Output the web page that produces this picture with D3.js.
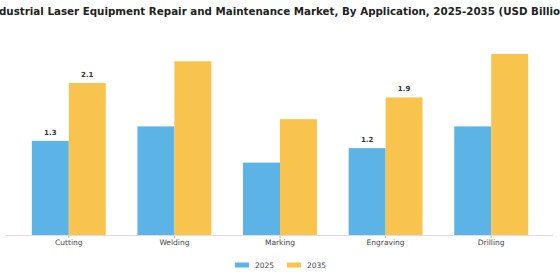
<!DOCTYPE html>
<html>
<head>
<meta charset="utf-8">
<script src="https://cdn.jsdelivr.net/npm/d3@7"></script>
<style>
  body { margin: 0; background: #fff; }
  svg { display: block; font-family: "DejaVu Sans", sans-serif; }
</style>
</head>
<body>
<svg id="chart" width="560" height="280"></svg>
<script>
const categories = ["Cutting", "Welding", "Marking", "Engraving", "Drilling"]
const years = ["2025", "2035"]
const values2025 = [1.3, 1.5, 1.0, 1.2, 1.5]
const values2035 = [2.1, 2.4, 1.6, 1.9, 2.5]
// only some bars carry a value label in the original
const labelled = ["Cutting", "Engraving"]

const colors = {"2025": "#5cb3e6", "2035": "#f8c44d"}

const rows = categories.map((c, i) => ({cat: c, "2025": values2025[i], "2035": values2035[i]}))

const width = 560, height = 280
const svg = d3.select("#chart")

const x = d3.scaleBand()
  .domain(categories)
  .range([16, 544])
  .paddingInner(0.3)
  .paddingOuter(0.15)

const xSub = d3.scaleBand()
  .domain(years)
  .range([0, x.bandwidth()])

const y = d3.scaleLinear()
  .domain([0, 2.5])
  .range([235, 54])

// title (wider than the frame, clipped at both sides like the original)
svg.append("text")
  .attr("x", width / 2)
  .attr("y", 15)
  .attr("text-anchor", "middle")
  .attr("font-size", 10.3)
  .attr("font-weight", "bold")
  .attr("fill", "#222")
  .text("Industrial Laser Equipment Repair and Maintenance Market, By Application, 2025-2035 (USD Billion)")

const groups = svg.append("g")
  .selectAll("g")
  .data(rows)
  .join("g")
  .attr("transform", d => `translate(${x(d.cat)},0)`)

groups.selectAll("rect")
  .data(d => years.map(yr => ({cat: d.cat, year: yr, value: d[yr]})))
  .join("rect")
  .attr("x", d => xSub(d.year))
  .attr("y", d => y(d.value))
  .attr("width", xSub.bandwidth())
  .attr("height", d => y(0) - y(d.value))
  .attr("fill", d => colors[d.year])

groups.selectAll("text.val")
  .data(d => labelled.includes(d.cat) ? years.map(yr => ({year: yr, value: d[yr]})) : [])
  .join("text")
  .attr("class", "val")
  .attr("x", d => xSub(d.year) + xSub.bandwidth() / 2)
  .attr("y", d => y(d.value) - 6)
  .attr("text-anchor", "middle")
  .attr("font-size", 7)
  .attr("font-weight", "bold")
  .attr("fill", "#333")
  .text(d => d3.format(".1f")(d.value))

// x axis
const xAxis = svg.append("g")
  .attr("transform", `translate(0,${y(0)})`)
  .call(d3.axisBottom(x).tickSize(3).tickPadding(2))
xAxis.select(".domain").remove()
xAxis.selectAll(".tick line").attr("stroke", "#bbb")
xAxis.selectAll(".tick text")
  .attr("font-size", 7.5)
  .attr("fill", "#444")
  .attr("font-family", "DejaVu Sans, sans-serif")

svg.append("line")
  .attr("x1", 6).attr("x2", 553)
  .attr("y1", y(0) + 0.5).attr("y2", y(0) + 0.5)
  .attr("stroke", "#ddd")

// legend
const legend = svg.append("g")
  .attr("transform", "translate(235,265)")
  .selectAll("g")
  .data(years)
  .join("g")
  .attr("transform", (d, i) => `translate(${i * 52},0)`)

legend.append("rect")
  .attr("x", 0).attr("y", -2.5)
  .attr("width", 14).attr("height", 5)
  .attr("fill", d => colors[d])

legend.append("text")
  .attr("x", 20).attr("y", 3)
  .attr("font-size", 7.5)
  .attr("fill", "#444")
  .text(d => d)
</script>
</body>
</html>
